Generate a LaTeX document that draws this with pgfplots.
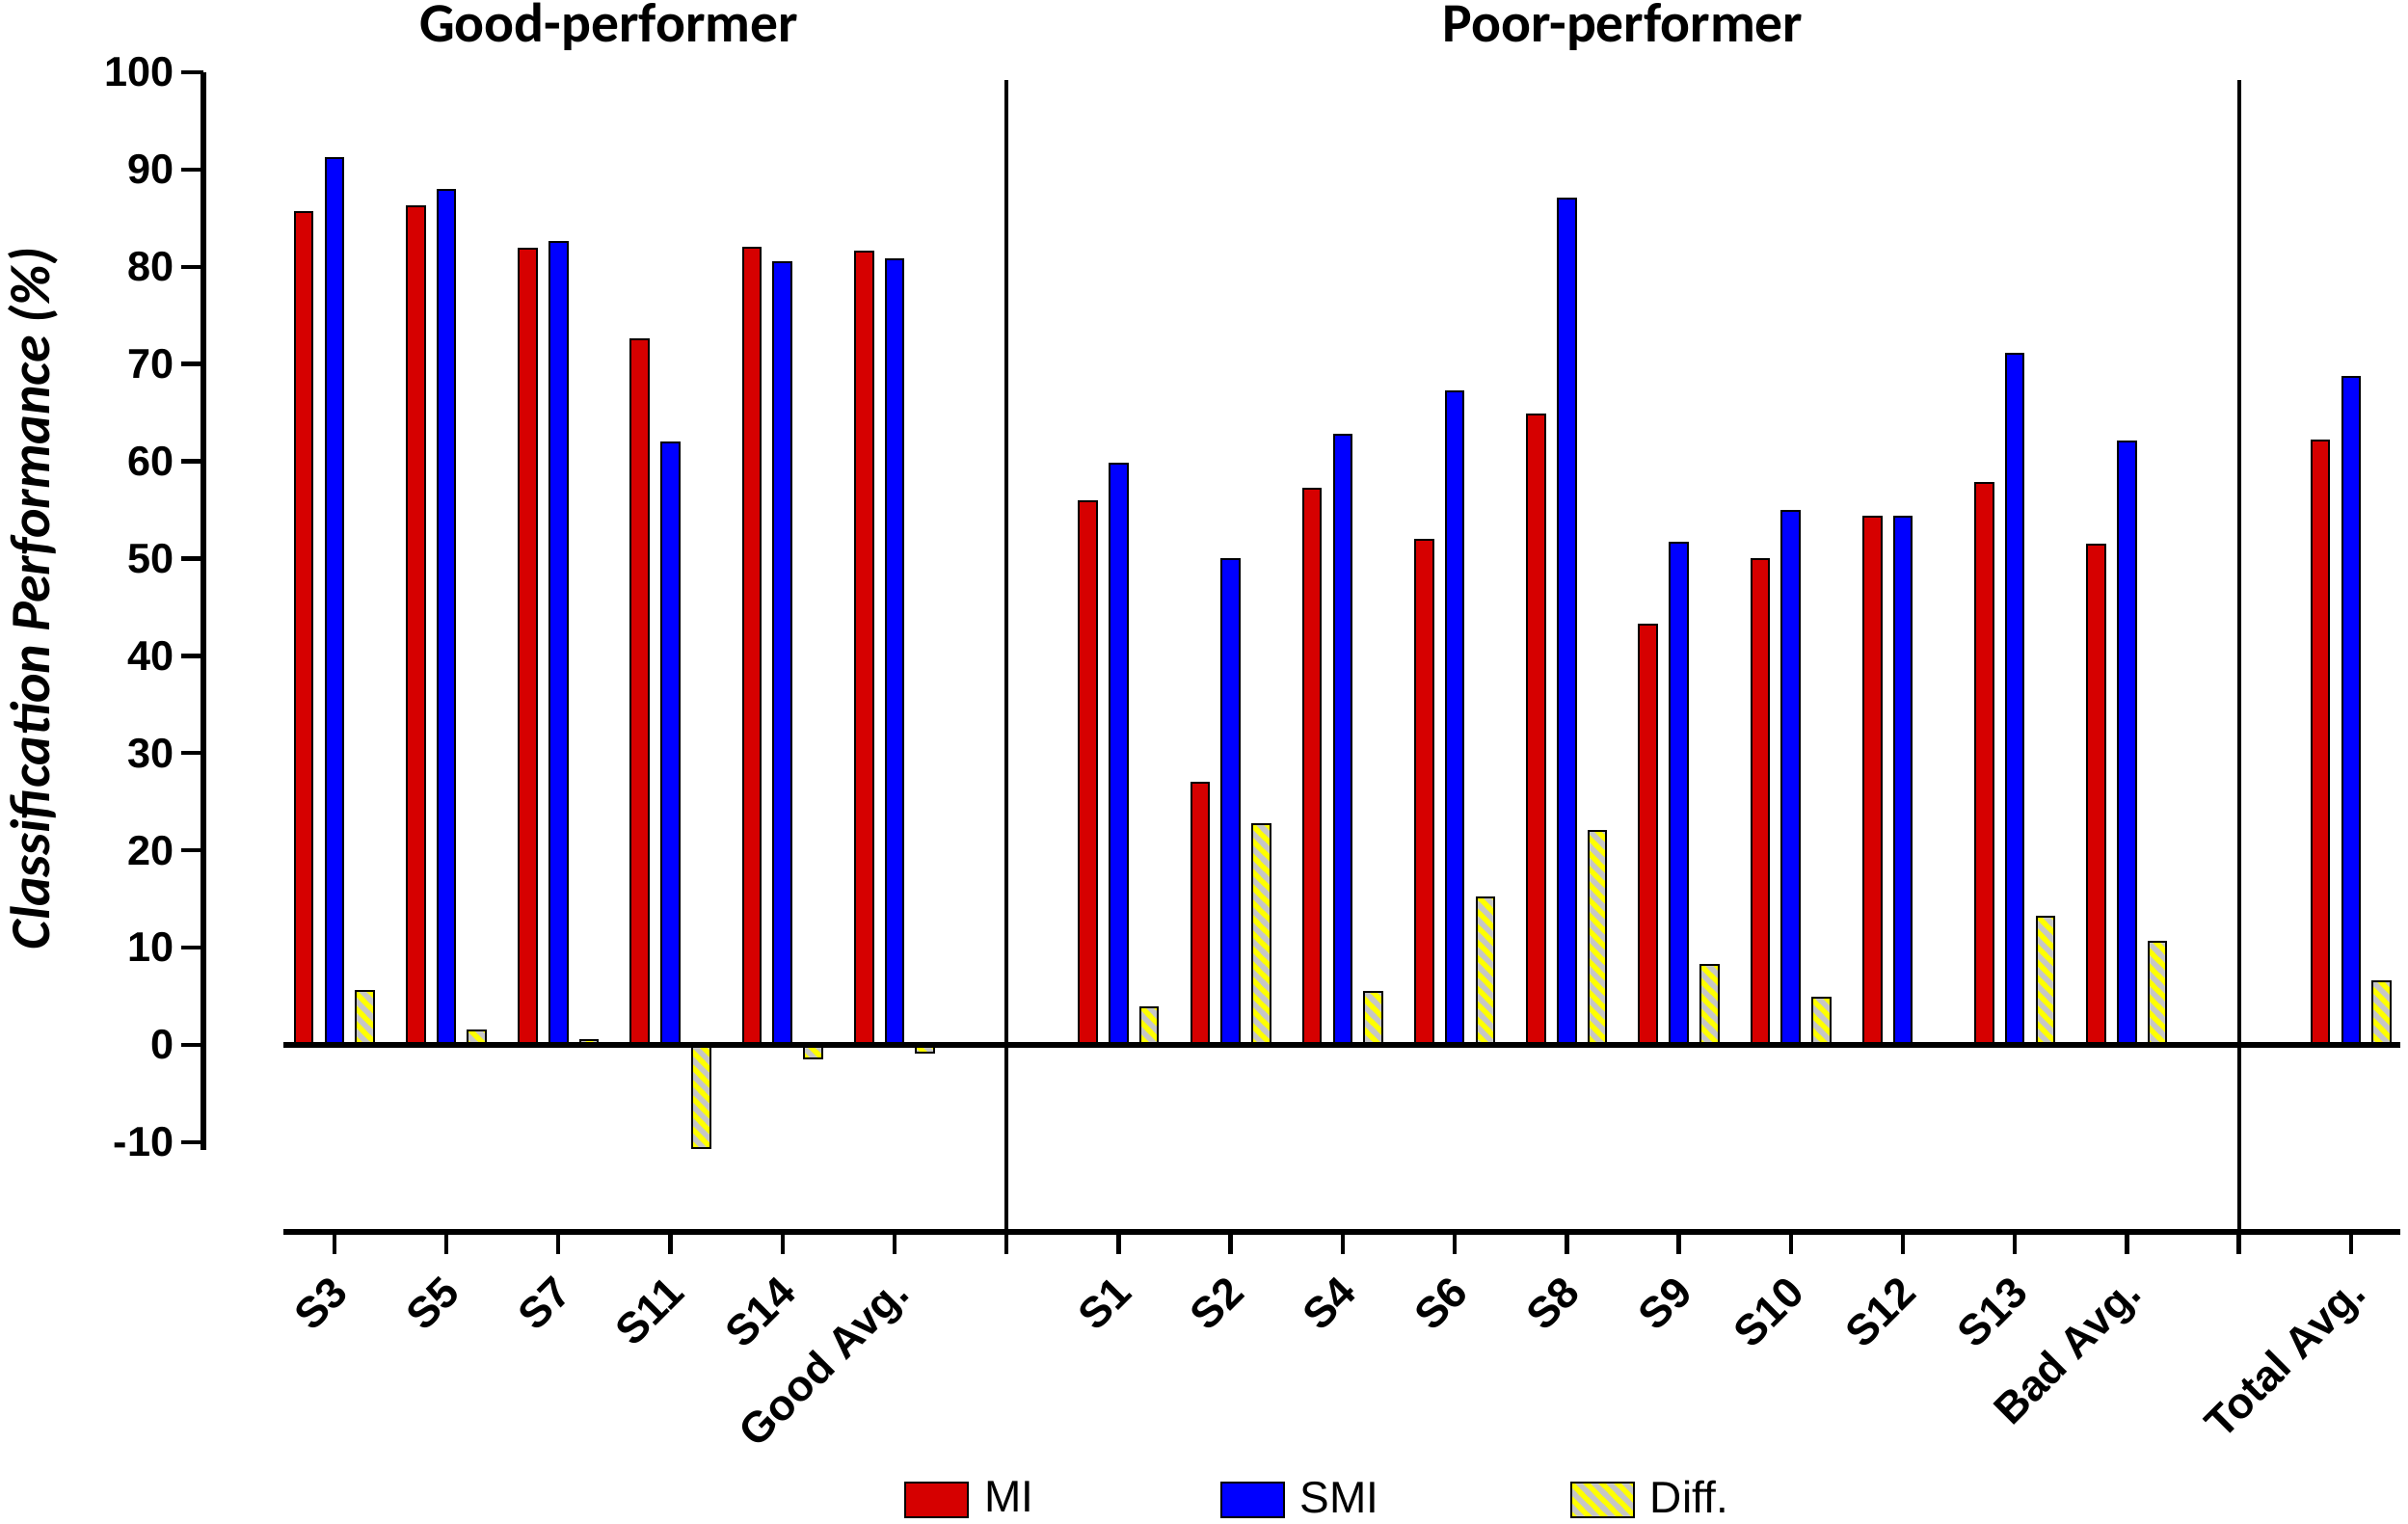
\documentclass[border=0pt]{standalone}
\usepackage{fontspec}
\setmainfont{Liberation Sans}
\newfontfamily\calibri{Carlito}
\usepackage{pgfplots}
\usepackage{pgfplotstable}
\pgfplotsset{compat=1.18}
\usetikzlibrary{patterns}
\definecolor{mired}{RGB}{214,0,0}
\definecolor{smiblue}{RGB}{0,0,255}
\definecolor{diffyel}{RGB}{255,255,0}
\definecolor{diffgray}{RGB}{198,198,198}
\pgfdeclarepatternformonly{thickNW}{\pgfqpoint{-1pt}{-1pt}}{\pgfqpoint{5pt}{5pt}}{\pgfqpoint{4pt}{4pt}}{%
  \pgfsetlinewidth{1.4pt}%
  \pgfpathmoveto{\pgfqpoint{-1pt}{5pt}}\pgfpathlineto{\pgfqpoint{5pt}{-1pt}}%
  \pgfusepath{stroke}}
\pgfplotsset{boxlegend/.style={legend image code/.code={\draw[##1] (0pt,-4.6pt) rectangle (16.25pt,4.6pt);}}}

\pgfplotstableread{
x  MI    SMI   Diff
0  85.6  91.2   5.5
1  86.2  87.9   1.5
2  81.9  82.6   0.5
3  72.5  61.9 -10.6
4  82.0  80.5  -1.4
5  81.6  80.8  -0.8
7  55.9  59.8   3.9
8  27.0  49.9  22.7
9  57.2  62.7   5.4
10 51.9  67.2  15.2
11 64.8  87.0  22.0
12 43.2  51.6   8.2
13 49.9  54.9   4.9
14 54.3  54.3   0.0
15 57.8  71.1  13.2
16 51.4  62.0  10.6
18 62.1  68.7   6.5
}\datatable

\begin{document}
\begin{tikzpicture}
\begin{axis}[
  at={(52.75pt,75.75pt)}, anchor=south west,
  scale only axis, width=569.75pt, height=300.75pt,
  xmin=-1.1687, xmax=18.44, ymin=-19.23, ymax=100,
  enlargelimits=false,
  clip=false,
  axis x line*=bottom, axis y line*=left,
  axis line style={draw=none},
  tick align=outside,
  major tick length=5.75pt,
  tick style={line width=1.1pt, black},
  xtick={0,...,18},
  xticklabels={S3,S5,S7,S11,S14,Good Avg.,,S1,S2,S4,S6,S8,S9,S10,S12,S13,Bad Avg.,,Total Avg.},
  xticklabel style={xshift=-1.5pt, rotate=45, anchor=north east, font=\bfseries\fontsize{11.2}{13}\selectfont, inner sep=1pt},
  xticklabel shift=3.5pt,
  ytick={-10,0,10,20,30,40,50,60,70,80,90,100},
  yticklabels={-10,0,10,20,30,40,50,60,70,80,90,100},
  yticklabel style={font=\bfseries\fontsize{10.8}{12}\selectfont, inner sep=1.75pt},
  ybar, bar width=0.16,
  legend columns=3,
  legend style={at={(0.3190,-0.2311)}, anchor=west, draw=none, fill=none,
    inner sep=0pt, outer sep=0pt,
    nodes={inner sep=0pt, font=\fontsize{11.5}{13}\selectfont},
    /tikz/every odd column/.append style={column sep=4pt},
    /tikz/column 2/.style={column sep=48.4pt},
    /tikz/column 4/.style={column sep=49.6pt}},
]
\addplot[fill=mired, draw=black, line width=0.5pt, bar shift=-0.273, boxlegend]
  table[x=x, y=MI]{\datatable};
\addplot[fill=smiblue, draw=black, line width=0.5pt, bar shift=0, boxlegend]
  table[x=x, y=SMI]{\datatable};
\addplot[preaction={fill=diffyel}, pattern=thickNW, pattern color=diffgray,
  draw=black, line width=0.5pt, bar shift=0.273, boxlegend]
  table[x=x, y=Diff]{\datatable};
\legend{MI,SMI,Diff.}
\draw[line width=1.3pt] (axis cs:-1.1687,100) -- (axis cs:-1.1687,-10.8);
\draw[line width=1.4pt] (axis cs:-0.454,-19.23) -- (axis cs:18.44,-19.23);
\draw[line width=1.4pt] (axis cs:-0.454,0) -- (axis cs:18.44,0);
\draw[line width=1pt] (axis cs:6,99.2) -- (axis cs:6,-19.23);
\draw[line width=1pt] (axis cs:17,99.2) -- (axis cs:17,-19.23);
\node[font=\calibri\bfseries\fontsize{14.4}{16}\selectfont, anchor=base] at (axis cs:2.45,103.07) {Good-performer};
\node[font=\calibri\bfseries\fontsize{14.4}{16}\selectfont, anchor=base] at (axis cs:11.5,103.07) {Poor-performer};
\node[rotate=90, font=\calibri\bfseries\itshape\fontsize{14.5}{16}\selectfont] at (axis cs:-2.692,45.9) {Classification Performance (\%)};
\end{axis}
\pgfresetboundingbox
\path (0,0) rectangle (624.5pt,395.25pt);
\end{tikzpicture}
\end{document}
